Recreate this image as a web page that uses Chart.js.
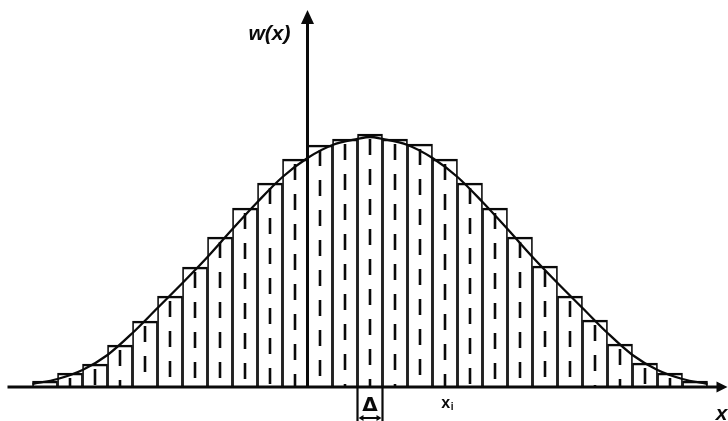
<!DOCTYPE html>
<html>
<head>
<meta charset="utf-8">
<title>w(x)</title>
<script src="https://cdn.jsdelivr.net/npm/chart.js@4.4.1/dist/chart.umd.min.js"></script>
<style>
    html, body { margin: 0; padding: 0; background: #fff; }
    #wrap { width: 728px; height: 421px; }
</style>
</head>
<body>
<div id="wrap"><canvas id="histChart" width="728" height="421"></canvas></div>
<script>
// bin centres x_i, in units of the bin width Δ
const binCenters = [-13, -12, -11, -10, -9, -8, -7, -6, -5, -4, -3, -2, -1, 0,
    1, 2, 3, 4, 5, 6, 7, 8, 9, 10, 11, 12, 13];
// histogram heights per bin
const binHeights = [0.06, 0.14, 0.23, 0.42, 0.66, 0.91, 1.20, 1.50, 1.79, 2.04, 2.28, 2.42, 2.48, 2.53,
    2.48, 2.43, 2.28, 2.04, 1.79, 1.50, 1.21, 0.91, 0.67, 0.43, 0.24, 0.14, 0.06];

// density curve w(x), read at the bin edges and the middle
const curveX = [-13.5, -12.5, -11.5, -10.5, -9.5, -8.5, -7.5, -6.5, -5.5, -4.5, -3.5, -2.5, -1.5, -0.5, 0,
    0.5, 1.5, 2.5, 3.5, 4.5, 5.5, 6.5, 7.5, 8.5, 9.5, 10.5, 11.5, 12.5, 13.5];
const curveW = [0.03, 0.08, 0.17, 0.32, 0.54, 0.79, 1.04, 1.30, 1.58, 1.85, 2.10, 2.29, 2.42, 2.48, 2.50,
    2.48, 2.42, 2.29, 2.10, 1.85, 1.58, 1.30, 1.04, 0.79, 0.54, 0.32, 0.17, 0.08, 0.03];

// where the w(x) axis crosses the x axis
const yAxisAt = -2.5;

document.addEventListener('DOMContentLoaded', function() {
    drawChart();
});

function drawChart() {
    const ctx = document.getElementById('histChart').getContext('2d');

    const datasets = [{
        type: 'bar',
        data: binCenters.map((c, i) => ({ x: c, y: binHeights[i] })),
        backgroundColor: '#ffffff',
        borderColor: '#0a0a0a',
        borderWidth: { left: 1.7, right: 1.7, top: 2.7, bottom: 0 },
        borderSkipped: false,
        barPercentage: 1,
        categoryPercentage: 1,
        order: 3
    }];

    // dashed line through the middle of every bin
    binCenters.forEach((c, i) => {
        datasets.push({
            type: 'line',
            data: [{ x: c, y: binHeights[i] - 0.05 }, { x: c, y: 0 }],
            borderColor: '#0a0a0a',
            borderWidth: 2.6,
            borderDash: [16, 14],
            pointRadius: 0,
            fill: false,
            order: 2
        });
    });

    datasets.push({
        type: 'line',
        data: curveX.map((v, i) => ({ x: v, y: curveW[i] })),
        borderColor: '#0a0a0a',
        borderWidth: 2.3,
        cubicInterpolationMode: 'monotone',
        pointRadius: 0,
        fill: false,
        order: 1
    });

    new Chart(ctx, {
        type: 'bar',
        data: { datasets: datasets },
        options: {
            responsive: false,
            animation: false,
            layout: { padding: { left: 7.5, right: 0.5, top: 11, bottom: 34 } },
            plugins: {
                legend: { display: false },
                tooltip: { enabled: false }
            },
            scales: {
                x: {
                    type: 'linear',
                    min: -14.5,
                    max: 14.3,
                    offset: false,
                    display: false
                },
                y: {
                    min: 0,
                    max: 3.76,
                    display: false
                }
            }
        },
        plugins: [axesPlugin]
    });
}

function arrowHead(ctx, tipX, tipY, dirX, dirY, len, half) {
    const px = -dirY, py = dirX;
    ctx.beginPath();
    ctx.moveTo(tipX, tipY);
    ctx.lineTo(tipX - dirX * len + px * half, tipY - dirY * len + py * half);
    ctx.lineTo(tipX - dirX * len - px * half, tipY - dirY * len - py * half);
    ctx.closePath();
    ctx.fill();
}

const axesPlugin = {
    id: 'axes',
    afterDatasetsDraw(chart) {
        const { ctx, chartArea, scales: { x, y } } = chart;
        const base = y.getPixelForValue(0);
        const ax = x.getPixelForValue(yAxisAt);
        ctx.save();
        ctx.strokeStyle = '#0a0a0a';
        ctx.fillStyle = '#0a0a0a';

        // x axis
        ctx.lineWidth = 3;
        ctx.beginPath();
        ctx.moveTo(chartArea.left, base);
        ctx.lineTo(chartArea.right - 8, base);
        ctx.stroke();
        arrowHead(ctx, chartArea.right, base, 1, 0, 11, 5.5);

        // w(x) axis
        ctx.beginPath();
        ctx.moveTo(ax, base);
        ctx.lineTo(ax, chartArea.top + 10);
        ctx.stroke();
        arrowHead(ctx, ax, chartArea.top - 1, 0, -1, 14, 6.5);

        // Δ bracket under the middle bin
        const l = x.getPixelForValue(-0.5);
        const r = x.getPixelForValue(0.5);
        ctx.lineWidth = 2.2;
        ctx.beginPath();
        ctx.moveTo(l, base);
        ctx.lineTo(l, base + 34);
        ctx.moveTo(r, base);
        ctx.lineTo(r, base + 34);
        ctx.moveTo(l + 3, base + 31);
        ctx.lineTo(r - 3, base + 31);
        ctx.stroke();
        arrowHead(ctx, l + 1, base + 31, -1, 0, 5, 3);
        arrowHead(ctx, r - 1, base + 31, 1, 0, 5, 3);

        ctx.textBaseline = 'alphabetic';
        ctx.textAlign = 'center';
        ctx.font = 'bold 20px "DejaVu Sans"';
        ctx.fillText('Δ', (l + r) / 2, base + 24);

        // labels
        ctx.textAlign = 'left';
        ctx.font = 'bold 16px "Liberation Sans"';
        const xi = x.getPixelForValue(2.85);
        ctx.fillText('x', xi, base + 21);
        ctx.font = 'bold 10px "Liberation Sans"';
        ctx.fillText('i', xi + 9.5, base + 23);

        ctx.textAlign = 'right';
        ctx.font = 'bold italic 21px "Liberation Sans"';
        ctx.fillText('w(x)', ax - 17, chartArea.top + 29);
        ctx.fillText('x', chartArea.right, base + 33);

        ctx.restore();
    }
};
</script>
</body>
</html>
